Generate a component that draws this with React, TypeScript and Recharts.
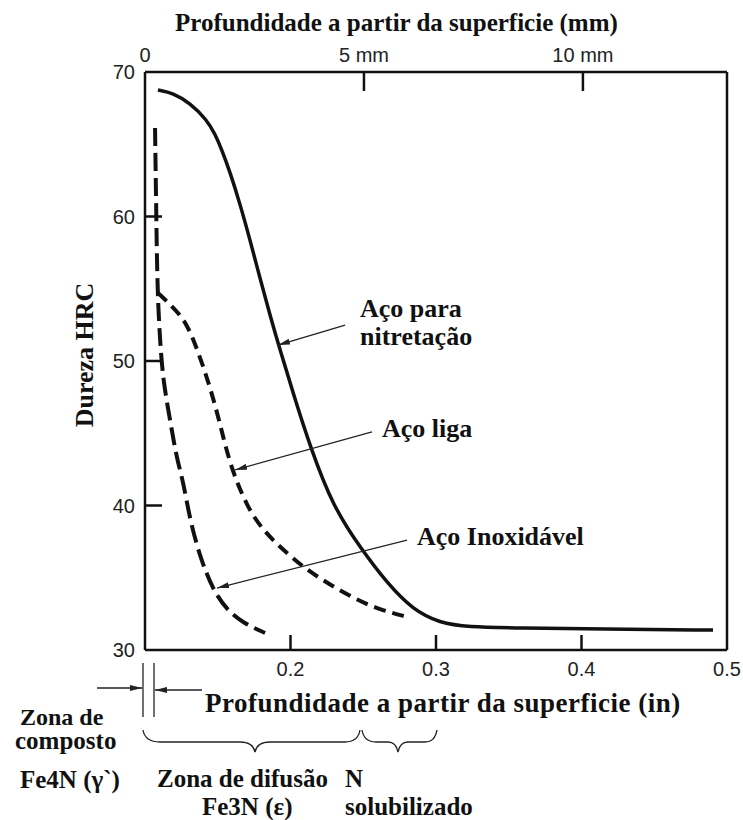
import React from 'react';
import { LineChart, Line, XAxis, YAxis, ReferenceLine } from 'recharts';

// Hardness profiles (x: depth in inches, y: HRC)
const acoNitretacao = [
  { x: 0.1089, y: 68.75 },
  { x: 0.1192, y: 68.55 },
  { x: 0.1309, y: 67.85 },
  { x: 0.1426, y: 66.68 },
  { x: 0.1481, y: 65.71 },
  { x: 0.1529, y: 64.6 },
  { x: 0.1584, y: 63.08 },
  { x: 0.1653, y: 60.87 },
  { x: 0.1722, y: 58.37 },
  { x: 0.179, y: 55.74 },
  { x: 0.1859, y: 53.18 },
  { x: 0.1928, y: 50.76 },
  { x: 0.2031, y: 47.37 },
  { x: 0.2134, y: 44.12 },
  { x: 0.2292, y: 39.9 },
  { x: 0.2491, y: 36.92 },
  { x: 0.2663, y: 34.64 },
  { x: 0.2842, y: 32.77 },
  { x: 0.3027, y: 31.87 },
  { x: 0.3213, y: 31.59 },
  { x: 0.3577, y: 31.52 },
  { x: 0.4127, y: 31.45 },
  { x: 0.4904, y: 31.38 },
];

const acoLiga = [
  { x: 0.1089, y: 54.71 },
  { x: 0.1192, y: 53.74 },
  { x: 0.1289, y: 52.63 },
  { x: 0.1378, y: 50.28 },
  { x: 0.1447, y: 48.2 },
  { x: 0.1515, y: 45.71 },
  { x: 0.1584, y: 42.8 },
  { x: 0.1701, y: 39.9 },
  { x: 0.1811, y: 38.3 },
  { x: 0.1928, y: 37.13 },
  { x: 0.2086, y: 35.74 },
  { x: 0.2251, y: 34.64 },
  { x: 0.243, y: 33.6 },
  { x: 0.2615, y: 32.77 },
  { x: 0.2808, y: 32.28 },
];

const acoInox = [
  { x: 0.1069, y: 66.12 },
  { x: 0.1076, y: 61.14 },
  { x: 0.1082, y: 56.99 },
  { x: 0.1089, y: 54.22 },
  { x: 0.1103, y: 51.45 },
  { x: 0.1124, y: 48.69 },
  { x: 0.1172, y: 45.92 },
  { x: 0.122, y: 43.15 },
  { x: 0.1261, y: 41.76 },
  { x: 0.1309, y: 39.0 },
  { x: 0.1378, y: 36.44 },
  { x: 0.1467, y: 34.15 },
  { x: 0.1564, y: 32.77 },
  { x: 0.1674, y: 31.87 },
  { x: 0.1825, y: 31.18 },
];

// Axis ticks
const yTicks = [30, 40, 50, 60, 70];
const inTicks = [0.2, 0.3, 0.4, 0.5];
const mmTicks = [0, 5, 10];
const mmTickLabels = ['0', '5 mm', '10 mm'];

// Axis limits
const IN_MIN = 0.1;
const IN_MAX = 0.5;
const MM_MAX = 13.29;
const HRC_MIN = 30;
const HRC_MAX = 70;

// Annotation arrows (from label to curve), in data coordinates
const arrowNitretacao = [{ x: 0.2375, y: 52.49 }, { x: 0.1914, y: 51.1 }];
const arrowLiga = [{ x: 0.256, y: 45.09 }, { x: 0.1619, y: 42.46 }];
const arrowInox = [{ x: 0.2801, y: 37.61 }, { x: 0.1495, y: 34.29 }];

const SERIF = '"Liberation Serif", "Times New Roman", serif';
const SANS = '"Liberation Sans", Arial, sans-serif';
const INK = '#111';
const TICK_FILL = '#222';
const TICK_FONT = 20;
const TICK_W = 2.5;

const LeftTick = (props: any) => {
  const { x, y, payload } = props;
  const v = Number(payload.value);
  const inner = v > HRC_MIN && v < HRC_MAX;
  return (
    <g>
      <text x={x} y={y} dy="0.35em" textAnchor="end" fill={TICK_FILL} fontSize={TICK_FONT} fontFamily={SANS}>{v}</text>
      {inner ? <path d={`M${x + 10},${y}H${x + 27}`} stroke={INK} strokeWidth={TICK_W} fill="none" /> : null}
    </g>
  );
};

const BottomTick = (props: any) => {
  const { x, y, payload } = props;
  const v = Number(payload.value);
  const inner = v > IN_MIN && v < IN_MAX;
  return (
    <g>
      <text x={x} y={y} dy="0.72em" textAnchor="middle" fill={TICK_FILL} fontSize={TICK_FONT} fontFamily={SANS}>{v}</text>
      {inner ? <path d={`M${x},${y - 12}V${y - 27}`} stroke={INK} strokeWidth={TICK_W} fill="none" /> : null}
    </g>
  );
};

const TopTick = (props: any) => {
  const { x, y, payload } = props;
  const v = Number(payload.value);
  const inner = v > 0 && v < MM_MAX;
  return (
    <g>
      <text x={x} y={y} textAnchor="middle" fill={TICK_FILL} fontSize={TICK_FONT} fontFamily={SANS}>{mmTickLabels[mmTicks.indexOf(v)]}</text>
      {inner ? <path d={`M${x},${y + 10}V${y + 29}`} stroke={INK} strokeWidth={TICK_W} fill="none" /> : null}
    </g>
  );
};

export default function App() {
  const labelStyle: React.CSSProperties = { fontFamily: SERIF, fontWeight: 700 };
  return (
    <div style={{ position: 'absolute', left: 0, top: 0, width: 743, height: 820, background: '#fff', overflow: 'hidden' }}>
      <svg width={0} height={0} style={{ position: 'absolute' }}>
        <defs>
          <marker id="arrowHead" viewBox="0 0 12 6" refX="12" refY="3" markerWidth="12" markerHeight="6" orient="auto" markerUnits="userSpaceOnUse">
            <path d="M0,0 L12,3 L0,6 Z" fill="#222" />
          </marker>
        </defs>
      </svg>
      <div style={{ position: 'absolute', left: 0, top: 0 }}>
        <LineChart width={743} height={820} margin={{ top: 42, right: 16, bottom: 140, left: 85 }}>
          <XAxis
            xAxisId="in"
            type="number"
            dataKey="x"
            domain={[IN_MIN, IN_MAX]}
            ticks={inTicks}
            interval={0}
            allowDataOverflow
            orientation="bottom"
            height={30}
            tickSize={0}
            tickMargin={12}
            axisLine={{ stroke: INK, strokeWidth: 2.5 }}
            tickLine={false}
            tick={BottomTick}
          />
          <XAxis
            xAxisId="mm"
            type="number"
            dataKey="x"
            domain={[0, MM_MAX]}
            ticks={mmTicks}
            interval={0}
            allowDataOverflow
            orientation="top"
            height={30}
            tickSize={0}
            tickMargin={10}
            axisLine={{ stroke: INK, strokeWidth: 2.5 }}
            tickLine={false}
            tick={TopTick}
          />
          <YAxis
            type="number"
            domain={[HRC_MIN, HRC_MAX]}
            ticks={yTicks}
            interval={0}
            allowDataOverflow
            width={60}
            tickSize={0}
            tickMargin={10}
            axisLine={{ stroke: INK, strokeWidth: 2.5 }}
            tickLine={false}
            tick={LeftTick}
          />
          <ReferenceLine xAxisId="in" x={IN_MAX} stroke={INK} strokeWidth={2.5} ifOverflow="visible" />
          <Line xAxisId="in" data={acoNitretacao} dataKey="y" type="basis" stroke={INK} strokeWidth={3.5} dot={false} activeDot={false} isAnimationActive={false} />
          <Line xAxisId="in" data={acoLiga} dataKey="y" type="basis" stroke={INK} strokeWidth={4} strokeDasharray="12 7" dot={false} activeDot={false} isAnimationActive={false} />
          <Line xAxisId="in" data={acoInox} dataKey="y" type="basis" stroke={INK} strokeWidth={4} strokeDasharray="18 7" dot={false} activeDot={false} isAnimationActive={false} />
          <ReferenceLine xAxisId="in" segment={arrowNitretacao} stroke="#222" strokeWidth={1.3} markerEnd="url(#arrowHead)" />
          <ReferenceLine xAxisId="in" segment={arrowLiga} stroke="#222" strokeWidth={1.3} markerEnd="url(#arrowHead)" />
          <ReferenceLine xAxisId="in" segment={arrowInox} stroke="#222" strokeWidth={1.3} markerEnd="url(#arrowHead)" />
        </LineChart>
      </div>
      <svg width={743} height={820} style={{ position: 'absolute', left: 0, top: 0, pointerEvents: 'none' }}>
        <g style={labelStyle} fill={INK}>
          <text x={175} y={31} fontSize={25}>Profundidade a partir da superficie (mm)</text>
          <text x={205} y={712} fontSize={27} letterSpacing={0.5}>Profundidade a partir da superficie (in)</text>
          <text transform="translate(93,355) rotate(-90)" fontSize={26} textAnchor="middle">Dureza HRC</text>
          <text x={360} y={317} fontSize={26}>Aço para</text>
          <text x={360} y={345} fontSize={26}>nitretação</text>
          <text x={382} y={437} fontSize={26}>Aço liga</text>
          <text x={417} y={545} fontSize={26}>Aço Inoxidável</text>
          <text x={20} y={725} fontSize={24}>Zona de</text>
          <text x={15} y={749} fontSize={25}>composto</text>
          <text x={20} y={788} fontSize={25}>Fe4N (γ`)</text>
          <text x={157} y={787} fontSize={25}>Zona de difusão</text>
          <text x={202} y={815} fontSize={25}>Fe3N (ε)</text>
          <text x={345} y={787} fontSize={25}>N</text>
          <text x={345} y={815} fontSize={25}>solubilizado</text>
        </g>
        <g stroke="#222" strokeWidth={1.3} fill="none">
          <line x1={143} y1={663} x2={143} y2={717} />
          <line x1={154} y1={663} x2={154} y2={717} />
          <line x1={97} y1={688} x2={142} y2={688} markerEnd="url(#arrowHead)" />
          <line x1={202} y1={690} x2={155} y2={690} markerEnd="url(#arrowHead)" />
          <path d="M143,730 Q145,742 160,742 L240,742 Q253,742 255,752 Q257,742 270,742 L345,742 Q358,742 360,730" />
          <path d="M362,730 Q364,742 376,742 L388,742 Q396,742 398,752 Q400,742 408,742 L425,742 Q435,742 437,730" />
        </g>
      </svg>
    </div>
  );
}
